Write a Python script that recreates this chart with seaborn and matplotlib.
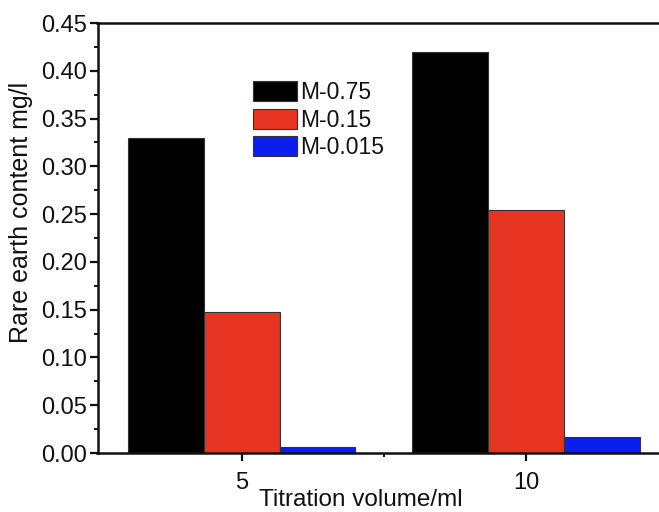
import matplotlib
matplotlib.use("Agg")
import matplotlib.pyplot as plt
import seaborn as sns
import pandas as pd
from matplotlib.ticker import MultipleLocator, FixedLocator

volumes = ["5", "10"]
series = ["M-0.75", "M-0.15", "M-0.015"]
m075 = [0.330, 0.420]
m015 = [0.148, 0.254]
m0015 = [0.006, 0.017]
colors = ["#000000", "#E63322", "#0A1EF0"]

rows = []
for name, vals in zip(series, [m075, m015, m0015]):
    for v, val in zip(volumes, vals):
        rows.append({"vol": v, "series": name, "val": val})
df = pd.DataFrame(rows)

sns.set_theme(style="white")
plt.rcParams["font.family"] = ["Liberation Sans", "DejaVu Sans"]

fig = plt.figure(figsize=(6.59, 5.12), dpi=100)
ax = fig.add_axes([97.5 / 659, (512 - 453) / 512, 1 - 97.5 / 659, (453 - 23) / 512])

sns.barplot(data=df, x="vol", y="val", hue="series", order=volumes,
            hue_order=series, palette=colors, width=0.8, ax=ax,
            edgecolor="#333333", linewidth=0.8, saturation=1, legend=True)

ax.set_xlim(-0.507, 1.468)
ax.set_ylim(0, 0.45)
ax.yaxis.set_major_locator(MultipleLocator(0.05))
ax.yaxis.set_minor_locator(MultipleLocator(0.025))
ax.xaxis.set_minor_locator(FixedLocator([0.5]))
ax.set_yticklabels([f"{t:.2f}" for t in ax.get_yticks()])

for s in ["left", "bottom", "top"]:
    ax.spines[s].set_visible(True)
    ax.spines[s].set_linewidth(1.8)
    ax.spines[s].set_color("#111111")
ax.spines["right"].set_visible(False)

ax.tick_params(axis="both", which="major", direction="out", length=6,
               width=1.6, color="#111111", labelsize=17, labelcolor="#111111",
               left=True, bottom=True)
ax.tick_params(axis="y", which="major", pad=1.2)
ax.tick_params(axis="x", which="major", pad=8)
ax.tick_params(axis="both", which="minor", direction="out", length=3,
               width=1.4, color="#111111", left=True, bottom=True)

ax.set_xlabel("Titration volume/ml", fontsize=17.5, color="#111111")
ax.set_ylabel("Rare earth content mg/l", fontsize=18, color="#111111")
ax.xaxis.set_label_coords((361 - 97.5) / (659 - 97.5), -(500 - 453) / 430)
ax.yaxis.set_label_coords(-(97.5 - 21) / (659 - 97.5), (453 - 212) / 430)
ax.xaxis.label.set_verticalalignment("center")
ax.yaxis.label.set_verticalalignment("center")

leg = ax.legend(loc="upper left", bbox_to_anchor=(253 / 659, 1 - 81 / 512),
                bbox_transform=fig.transFigure, frameon=False, fontsize=16.5,
                handlelength=1.9, handleheight=0.95, handletextpad=0.15,
                labelspacing=0.2, borderpad=0, borderaxespad=0)
for t in leg.get_texts():
    t.set_color("#111111")

fig.savefig("out.png", dpi=100)
